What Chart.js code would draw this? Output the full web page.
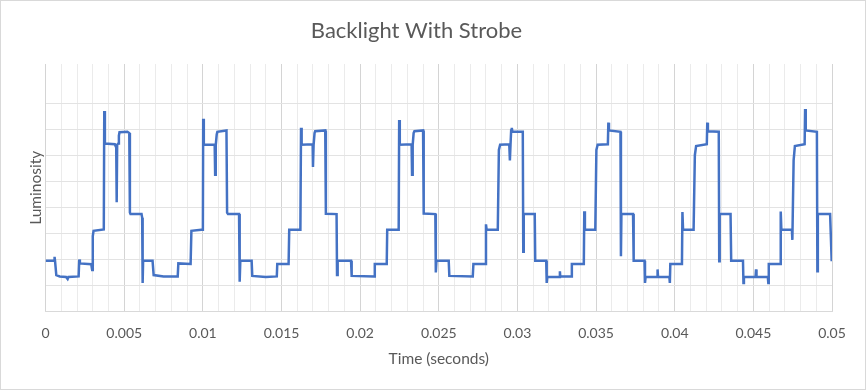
<!DOCTYPE html>
<html>
<head>
<meta charset="utf-8">
<script src="https://cdn.jsdelivr.net/npm/chart.js@4"></script>
<style>
  body { margin: 0; background: #fff; }
  #frame { width: 866px; height: 390px; box-sizing: border-box; border: 1px solid #d9d9d9; }
  #box { position: relative; width: 864px; height: 388px; }
</style>
</head>
<body>
<div id="frame"><div id="box"><canvas id="grafica"></canvas></div></div>
<script>
// time in seconds
const times = [
  0, 0.00055, 0.00057, 0.0006, 0.00068, 0.0009, 0.0013, 0.0014, 0.00145, 0.0021,
  0.00214, 0.00218, 0.0029, 0.00296, 0.003, 0.00305, 0.0037, 0.00373, 0.00377, 0.0044,
  0.00449, 0.00452, 0.00455, 0.00462, 0.00466, 0.0047, 0.0052, 0.00532, 0.00536, 0.0054,
  0.0061, 0.00614, 0.00617, 0.0062, 0.0068, 0.00687, 0.0075, 0.0084,
  0.00844, 0.00922, 0.00927, 0.0099, 0.01, 0.01002, 0.01006, 0.01075, 0.01078, 0.01082,
  0.01088, 0.01092, 0.0115, 0.01154, 0.0116, 0.0123, 0.01234, 0.01238, 0.0131, 0.01314,
  0.014, 0.0147, 0.01473, 0.01545, 0.01549, 0.0162, 0.01624, 0.01628, 0.01698, 0.017,
  0.01704, 0.0171, 0.01714, 0.01778, 0.01782, 0.0185, 0.01853, 0.01857, 0.01942, 0.01946,
  0.0209, 0.02093, 0.02169, 0.02172, 0.02245, 0.02248, 0.02252, 0.02327, 0.0233, 0.02334,
  0.0234, 0.02345, 0.024, 0.02404, 0.02478, 0.02481, 0.02485, 0.02563, 0.02567, 0.02716,
  0.0272, 0.02796, 0.028, 0.02804, 0.02875, 0.02882, 0.0289, 0.02948, 0.02952, 0.02956,
  0.0296, 0.02964, 0.02968, 0.03034, 0.03037, 0.0304, 0.0311, 0.03113, 0.03183, 0.03186,
  0.0319, 0.03268, 0.0327, 0.03272, 0.03342, 0.03346, 0.03422, 0.03425, 0.03429, 0.03495,
  0.03502, 0.0351, 0.03575, 0.03578, 0.03582, 0.03655, 0.03658, 0.03661, 0.03735, 0.03739,
  0.03808, 0.03811, 0.03815, 0.03888, 0.03891, 0.03894, 0.03966, 0.03969, 0.03972, 0.04046,
  0.04049, 0.04053, 0.0412, 0.04128, 0.04136, 0.04204, 0.04207, 0.04211, 0.0428, 0.04283,
  0.04286, 0.04355, 0.04359, 0.04434, 0.04437, 0.0444, 0.04514, 0.04517, 0.0452, 0.04592,
  0.04595, 0.04598, 0.0467, 0.04674, 0.04678, 0.04745, 0.04748, 0.04756, 0.04764, 0.04826,
  0.04829, 0.04833, 0.04904, 0.04907, 0.0491, 0.04988, 0.04998
];
const lum = [
  1.95, 1.95, 2.1, 1.95, 1.4, 1.35, 1.33, 1.25, 1.33, 1.35,
  2.0, 1.85, 1.82, 1.6, 2.9, 3.1, 3.15, 7.7, 6.45, 6.42,
  6.3, 4.2, 6.4, 6.45, 6.75, 6.88, 6.9, 6.85, 3.8, 3.74,
  3.74, 3.6, 1.1, 1.95, 1.95, 1.4, 1.35, 1.35,
  1.85, 1.83, 3.1, 3.14, 3.14, 7.4, 6.4, 6.4, 5.25, 6.4,
  6.8, 6.9, 6.95, 3.8, 3.74, 3.74, 1.15, 1.95, 1.95, 1.37,
  1.33, 1.35, 1.83, 1.83, 3.14, 3.14, 7.05, 6.4, 6.42, 5.55,
  6.4, 6.85, 6.92, 6.95, 3.75, 3.74, 1.4, 1.95, 1.95, 1.37,
  1.35, 1.83, 1.83, 3.14, 3.14, 7.35, 6.4, 6.42, 5.25, 6.4,
  6.85, 6.92, 6.95, 3.76, 3.74, 1.5, 1.95, 1.95, 1.37, 1.35,
  1.83, 1.83, 3.35, 3.14, 3.14, 6.2, 6.4, 6.42, 5.8, 6.4,
  6.95, 7.05, 6.9, 6.9, 2.3, 3.74, 3.74, 1.95, 1.95, 1.1,
  1.33, 1.33, 1.55, 1.35, 1.35, 1.83, 1.83, 3.85, 3.14, 3.14,
  6.2, 6.4, 6.42, 7.25, 6.95, 6.9, 2.12, 3.74, 3.74, 1.95,
  1.95, 1.1, 1.33, 1.33, 1.62, 1.33, 1.33, 1.1, 1.83, 1.83,
  3.82, 3.14, 3.14, 6.0, 6.35, 6.42, 7.25, 6.92, 6.9, 1.93,
  3.74, 3.74, 1.95, 1.95, 1.1, 1.33, 1.33, 1.62, 1.33, 1.33,
  1.1, 1.83, 1.83, 3.84, 3.14, 3.14, 2.75, 5.8, 6.35, 6.42,
  7.77, 6.95, 6.9, 1.55, 3.74, 3.74, 1.93
];

const tituloGrafica = 'Backlight With Strobe';
const tituloX = 'Time (seconds)';
const tituloY = 'Luminosity';
const xMin = 0, xMax = 0.05, xPaso = 0.001;
const yMin = 0, yMax = 9.5;

const puntos = times.map((t, i) => ({ x: t, y: lum[i] }));
const gris = '#595959';
const fuente = 'Lato, "Open Sans", sans-serif';

const grafica = new Chart(document.getElementById('grafica'), {
  type: 'line',
  data: {
    datasets: [{
      label: tituloY,
      data: puntos,
      borderColor: '#4472C4',
      borderWidth: 2.5,
      pointRadius: 0,
      tension: 0,
      fill: false
    }]
  },
  options: {
    responsive: true,
    maintainAspectRatio: false,
    animation: false,
    layout: { padding: { left: 0, right: 33, top: 0, bottom: 17 } },
    plugins: {
      legend: { display: false },
      tooltip: { enabled: false },
      title: {
        display: true,
        text: tituloGrafica,
        color: gris,
        font: { family: fuente, size: 22, weight: 'normal' },
        padding: { top: 17, bottom: 19.6 }
      }
    },
    scales: {
      x: {
        type: 'linear',
        min: xMin,
        max: xMax,
        border: { color: '#d9d9d9' },
        grid: {
          drawTicks: false,
          color: ctx => (Math.round(ctx.tick.value * 1000) % 5 === 0 ? '#d4d4d4' : '#ebebeb')
        },
        ticks: {
          stepSize: xPaso,
          autoSkip: false,
          maxRotation: 0,
          padding: 13,
          color: gris,
          font: { family: fuente, size: 14 },
          callback: v => {
            const m = Math.round(v * 1000);
            return m % 5 === 0 ? String(m / 1000) : '';
          }
        },
        title: {
          display: true,
          text: tituloX,
          color: gris,
          font: { family: fuente, size: 15.5 },
          padding: { top: -5, bottom: 4 }
        }
      },
      y: {
        min: yMin,
        max: yMax,
        border: { display: false },
        grid: {
          drawTicks: false,
          color: ctx => (ctx.tick.value > 9.01 ? 'rgba(0,0,0,0)' : '#e3e3e3')
        },
        ticks: { display: false, stepSize: 1 },
        title: {
          display: true,
          text: tituloY,
          color: gris,
          font: { family: fuente, size: 15.5 },
          padding: { top: 26, bottom: 0 }
        }
      }
    }
  }
});
</script>
</body>
</html>
